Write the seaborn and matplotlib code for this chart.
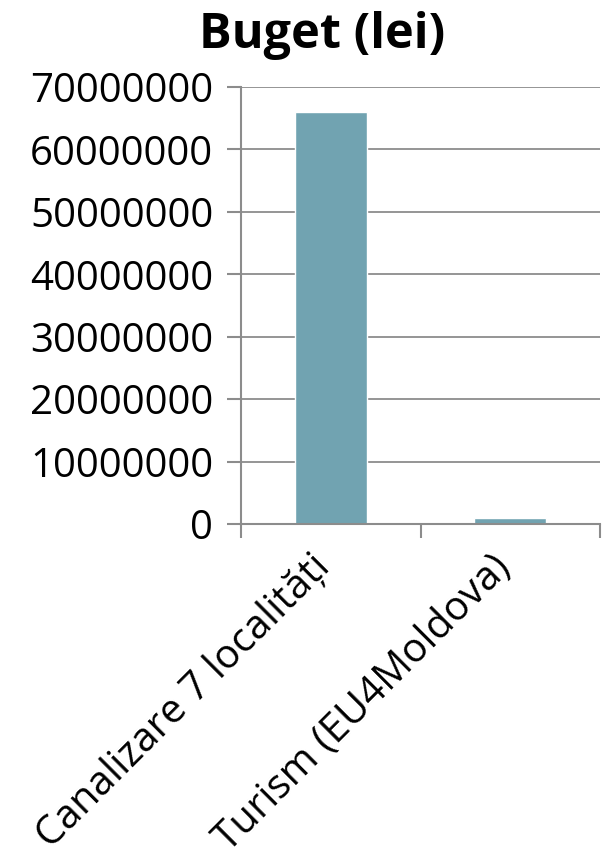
import matplotlib
matplotlib.use("Agg")
import matplotlib.pyplot as plt
import matplotlib.transforms as mtransforms
import seaborn as sns
import pandas as pd

categories = ["Canalizare 7 localități", "Turism (EU4Moldova)"]
values = [66000000, 1000000]
yticks = [0, 10000000, 20000000, 30000000, 40000000, 50000000, 60000000, 70000000]

sns.set_style("white")
plt.rcParams['font.family'] = ['Open Sans', 'DejaVu Sans']
plt.rcParams['text.color'] = 'black'

df = pd.DataFrame({"cat": categories, "val": values})

fig = plt.figure(figsize=(6.10, 8.65), dpi=100)
ax = fig.add_axes([241/610, 1-524/865, (600-241)/610, (524-87)/865])
sns.barplot(data=df, x="cat", y="val", color="#71A3B1", width=0.4, saturation=1, ax=ax)
ax.set_ylim(0, 70000000)
ax.set_xlim(-0.5, 1.5)
ax.set_yticks(yticks)
ax.set_yticklabels([str(v) for v in yticks], fontsize=29, color="black")
ax.yaxis.grid(True, color="#8c8c8c", linewidth=1.3)
ax.set_axisbelow(True)
for s in ["top", "right"]:
    ax.spines[s].set_visible(False)
for s in ["left", "bottom"]:
    ax.spines[s].set_color("#8c8c8c")
    ax.spines[s].set_linewidth(1.5)
ax.set_xticks([-0.5, 0.5, 1.5], minor=False)
ax.set_xticklabels([])
ax.set_xticks([0, 1], minor=True)
ax.set_xticklabels(categories, minor=True, rotation=45, ha="right", rotation_mode="anchor", fontsize=29, color="black")
ax.tick_params(axis="x", which="major", length=10, width=1.5, color="#8c8c8c", direction="out", bottom=True)
ax.tick_params(axis="x", which="minor", length=0, pad=24)
ax.tick_params(axis="y", length=10, width=1.5, color="#8c8c8c", direction="out", left=True, pad=10)
offset = mtransforms.ScaledTranslation(-20/100, 10/100, fig.dpi_scale_trans)
for lbl in ax.get_xticklabels(minor=True):
    lbl.set_transform(lbl.get_transform() + offset)
ax.set_xlabel("")
ax.set_ylabel("")
fig.text(322/610, 1-35/865, "Buget (lei)", ha="center", va="center", fontsize=35, fontweight="bold", color="black")
fig.savefig("out.png", dpi=100)
